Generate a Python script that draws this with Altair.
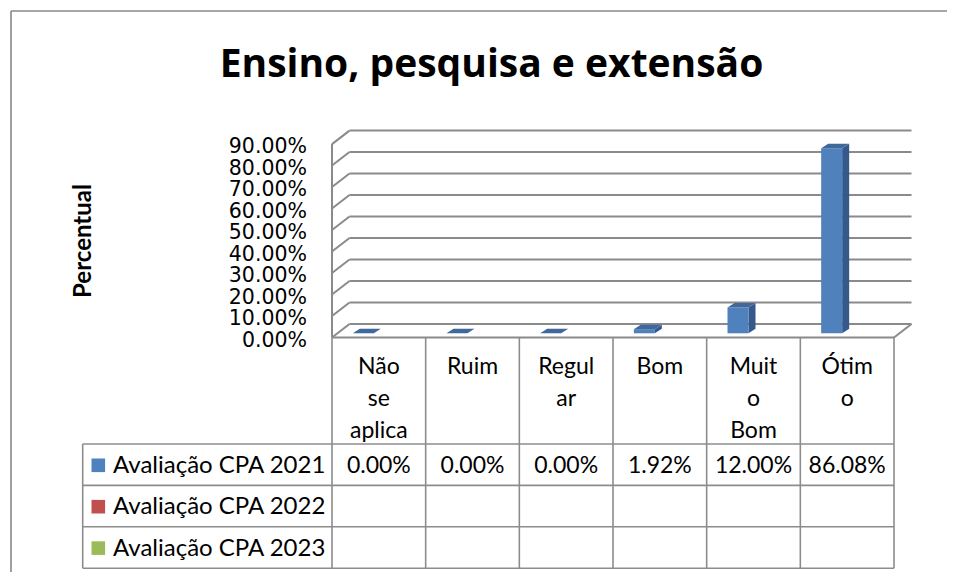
import altair as alt
import pandas as pd

# ---------------- data ----------------
categories = ["Não se aplica", "Ruim", "Regular", "Bom", "Muito Bom", "Ótimo"]
header_labels = ["Não\nse\naplica", "Ruim", "Regul\nar", "Bom", "Muit\no\nBom", "Ótim\no"]
series_names = ["Avaliação CPA 2021", "Avaliação CPA 2022", "Avaliação CPA 2023"]
series_colors = ["#4F81BD", "#C0504D", "#9BBB59"]
values_2021 = [0.00, 0.00, 0.00, 1.92, 12.00, 86.08]
values_2022 = []
values_2023 = []
y_ticks = [0, 10, 20, 30, 40, 50, 60, 70, 80, 90]
title_text = "Ensino, pesquisa e extensão"
y_title = "Percentual"

# ---------------- layout ----------------
W, H = 939, 564
FONT = "Lato"
PPU = 562 / 6          # px per category column
X0 = 324               # left edge of first column (view px)
PPP = 2.149            # px per percent
Y0 = 325.3             # bar base (view px)

def DX(px):
    return px / PPU

def DY(px):
    return px / PPP

xs = alt.Scale(domain=[-0.5 - X0 / PPU, -0.5 + (W - X0) / PPU], nice=False, zero=False)
ys = alt.Scale(domain=[-(H - Y0) / PPP, Y0 / PPP], nice=False, zero=False)

front_shift = -DY(4.2)
back_shift = DY(9.3)
wall_dx = DX(17.5)
bar_off = -DX(15.5)
bar_hw = DX(10.5)
bar_dx = DX(7)
bar_dy = DY(4.5)
n = len(categories)
GRID = "#8a8a8a"
LINE = "#8c8c8c"

X = lambda f: alt.X(f"{f}:Q", scale=xs, axis=None)
Y = lambda f: alt.Y(f"{f}:Q", scale=ys, axis=None)

# walls / grid lines
seg = []
for t in y_ticks:
    seg.append(dict(x=-0.5, x2=-0.5 + wall_dx, y=t + front_shift, y2=t + back_shift))
    seg.append(dict(x=-0.5 + wall_dx, x2=n - 0.5 + wall_dx, y=t + back_shift, y2=t + back_shift))
seg.append(dict(x=-0.5, x2=-0.5, y=front_shift, y2=y_ticks[-1] + front_shift))
seg.append(dict(x=-0.5, x2=n - 0.5, y=front_shift, y2=front_shift))
seg.append(dict(x=n - 0.5, x2=n - 0.5 + wall_dx, y=front_shift, y2=back_shift))
seg_df = pd.DataFrame(seg)
grid = alt.Chart(seg_df).mark_rule(color=GRID, strokeWidth=2).encode(
    x=X("x"), x2="x2", y=Y("y"), y2="y2")

# y tick labels
tick_df = pd.DataFrame({"t": y_ticks})
tick_df["pos"] = tick_df["t"] + front_shift
tick_df["label"] = [f"{t:.2f}%" for t in y_ticks]
ticks = alt.Chart(tick_df).mark_text(align="right", baseline="middle", dy=3, fontSize=20.5,
                                     font="DejaVu Sans", color="#000").encode(
    x=alt.value(299), y=Y("pos"), text="label:N")

# bars (3D)
bars_df = pd.DataFrame({"cat": categories, "i": range(n), "v": values_2021})
bars_df["xa"] = bars_df["i"] + bar_off - bar_hw
bars_df["xb"] = bars_df["i"] + bar_off + bar_hw
bars_df["zero"] = 0.0
front = alt.Chart(bars_df).mark_bar(color="#4F81BD").encode(
    x=X("xa"), x2="xb", y=Y("zero"), y2="v")

side_rows, top_rows = [], []
for i, v in enumerate(values_2021):
    a = i + bar_off - bar_hw
    b = i + bar_off + bar_hw
    side_rows += [dict(cat=i, x=b, y=0, y2=v), dict(cat=i, x=b + bar_dx, y=bar_dy, y2=v + bar_dy)]
    top_rows += [dict(cat=i, x=a, y=v, y2=v),
                 dict(cat=i, x=a + bar_dx, y=v, y2=v + bar_dy),
                 dict(cat=i, x=b, y=v, y2=v + bar_dy),
                 dict(cat=i, x=b + bar_dx, y=v + bar_dy, y2=v + bar_dy)]
side = alt.Chart(pd.DataFrame(side_rows)).mark_area(color="#34598A", interpolate="linear").encode(
    x=X("x"), y=Y("y"), y2="y2", detail="cat:N")
top = alt.Chart(pd.DataFrame(top_rows)).mark_area(color="#41689A", interpolate="linear").encode(
    x=X("x"), y=Y("y"), y2="y2", detail="cat:N")

# data table
TOP = Y0 + 4.2
HDR = 436
ROW = 41.4
BOT = HDR + 3 * ROW
LEG_L = 74.7
leg_left = -0.5 - (X0 - LEG_L) / PPU
hlines = []
for k in range(4):
    hlines.append(alt.Chart(pd.DataFrame({"x": [leg_left], "x2": [n - 0.5]})).mark_rule(
        color=LINE, strokeWidth=1.6).encode(x=X("x"), x2="x2", y=alt.value(HDR + k * ROW)))
vl_df = pd.DataFrame({"x": [i - 0.5 for i in range(n + 1)]})
vlines = alt.Chart(vl_df).mark_rule(color=LINE, strokeWidth=1.6).encode(
    x=X("x"), y=alt.value(TOP), y2=alt.value(BOT))
leg_vline = alt.Chart(pd.DataFrame({"x": [leg_left]})).mark_rule(color=LINE, strokeWidth=1.6).encode(
    x=X("x"), y=alt.value(HDR), y2=alt.value(BOT))

hdr_df = pd.DataFrame({"i": range(n), "lab": header_labels})
headers = alt.Chart(hdr_df).mark_text(align="center", baseline="alphabetic", fontSize=23, font=FONT,
                                      lineBreak="\n", lineHeight=32.3, color="#000").encode(
    x=X("i"), y=alt.value(365.5), text="lab:N")

all_series = [values_2021, values_2022, values_2023]
cell_layers = []
leg_rows = []
for k, (name, col, vals) in enumerate(zip(series_names, series_colors, all_series)):
    base_y = 464.8 + k * ROW
    leg_rows.append(dict(name=name, col=col, ty=base_y, sy=base_y - 7.5))
    if vals:
        cdf = pd.DataFrame({"i": range(len(vals)), "lab": [f"{v:.2f}%" for v in vals]})
        cell_layers.append(alt.Chart(cdf).mark_text(align="center", baseline="alphabetic", fontSize=23,
                                                    font=FONT, color="#000").encode(
            x=X("i"), y=alt.value(base_y), text="lab:N"))

leg_layers = []
for r in leg_rows:
    d = pd.DataFrame([r])
    leg_layers.append(alt.Chart(d).mark_square(size=185, color=r["col"], opacity=1).encode(
        x=alt.value(90.3), y=alt.value(r["sy"])))
    leg_layers.append(alt.Chart(d).mark_text(align="left", baseline="alphabetic", fontSize=24,
                                             font=FONT, color="#000").encode(
        x=alt.value(105), y=alt.value(r["ty"]), text="name:N"))

# titles and frame
title = alt.Chart(pd.DataFrame({"t": [title_text]})).mark_text(
    align="center", baseline="alphabetic", fontSize=39, fontWeight="bold", font="Open Sans",
    color="#000").encode(x=alt.value(483.5), y=alt.value(68.7), text="t:N")
ytitle = alt.Chart(pd.DataFrame({"t": [y_title]})).mark_text(
    align="center", baseline="alphabetic", angle=270, fontSize=24, fontWeight="bold", font=FONT,
    color="#000").encode(x=alt.value(83), y=alt.value(233), text="t:N")
frame_top = alt.Chart(pd.DataFrame({"a": [0]})).mark_rule(color="#888", strokeWidth=1.6).encode(
    x=alt.value(3), x2=alt.value(W), y=alt.value(3))
frame_left = alt.Chart(pd.DataFrame({"a": [0]})).mark_rule(color="#888", strokeWidth=1.6).encode(
    x=alt.value(3), y=alt.value(3), y2=alt.value(H))

chart = alt.layer(
    frame_top, frame_left, grid, side, front, top, ticks, title, ytitle,
    vlines, leg_vline, *hlines, headers, *cell_layers, *leg_layers
).properties(
    width=W, height=H, padding=0, autosize=alt.AutoSizeParams(type="none")
).configure_view(stroke=None)

chart.save("out.html", embed_options={"renderer": "svg", "actions": False})
